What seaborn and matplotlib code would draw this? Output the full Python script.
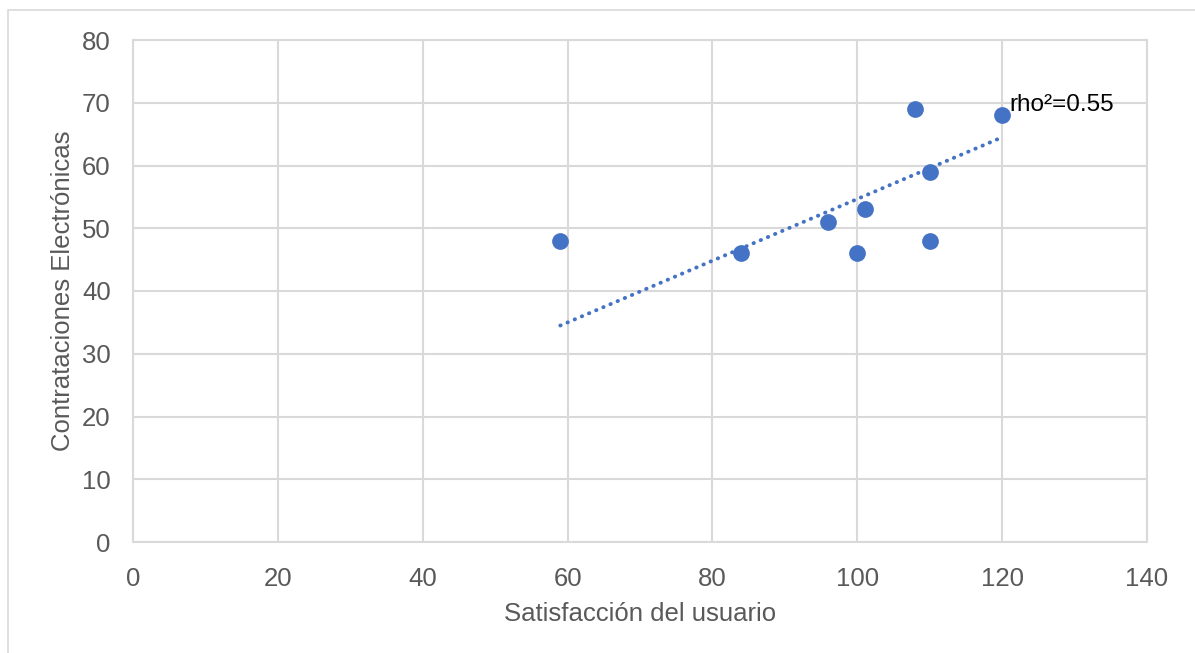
import matplotlib
matplotlib.use("Agg")
import matplotlib.pyplot as plt
import seaborn as sns
import pandas as pd
from matplotlib.patches import Rectangle

# Data
satisfaccion = [59, 84, 96, 100, 101, 108, 110, 110, 120]
contrataciones = [48, 46, 51, 46, 53, 69, 59, 48, 68]
trend_x = [59, 120]
trend_y = [34.5, 64.5]
x_ticks = [0, 20, 40, 60, 80, 100, 120, 140]
y_ticks = [0, 10, 20, 30, 40, 50, 60, 70, 80]
annotation = "rho\u00b2=0.55"
annot_pos = (121, 69.7)

sns.set_theme(style="white")
plt.rcParams['font.family'] = ['Liberation Sans', 'DejaVu Sans']

df = pd.DataFrame({"x": satisfaccion, "y": contrataciones})
tdf = pd.DataFrame({"x": trend_x, "y": trend_y})

fig = plt.figure(figsize=(11.95, 6.53), dpi=100)
ax = fig.add_axes([133/1195, 1-542/653, (1147-133)/1195, (542-40)/653])

grid_c = "#D9D9D9"
blue = "#4472C4"
txt_c = "#595959"

ax.set_xlim(0, 140)
ax.set_ylim(0, 80)
ax.set_xticks(x_ticks)
ax.set_yticks(y_ticks)
ax.grid(True, color=grid_c, linewidth=1.5)
ax.set_axisbelow(True)
for s in ax.spines.values():
    s.set_color(grid_c)
    s.set_linewidth(1.5)

sns.lineplot(data=tdf, x="x", y="y", ax=ax, color=blue, linewidth=2.8,
             linestyle=(0, (0.1, 1.9)), dash_capstyle="round", zorder=2)
sns.scatterplot(data=df, x="x", y="y", ax=ax, color=blue, s=145,
                edgecolor=blue, linewidth=0, zorder=3)

ax.text(annot_pos[0], annot_pos[1], annotation, fontsize=17.5, color="black",
        ha="left", va="center")

ax.tick_params(axis="x", labelsize=18.5, colors=txt_c, length=0, pad=18)
ax.tick_params(axis="y", labelsize=18.5, colors=txt_c, length=0, pad=16)
ax.set_xlabel("Satisfacción del usuario", fontsize=18.5, color=txt_c, labelpad=8)
ax.set_ylabel("Contrataciones Electrónicas", fontsize=18.5, color=txt_c, labelpad=5)

fig.patches.append(Rectangle((8/1195, -0.5), 2, 0.5 + 1 - 10/653, fill=False,
                             edgecolor=grid_c, linewidth=1.2,
                             transform=fig.transFigure, figure=fig))

fig.savefig("out.png", dpi=100)
